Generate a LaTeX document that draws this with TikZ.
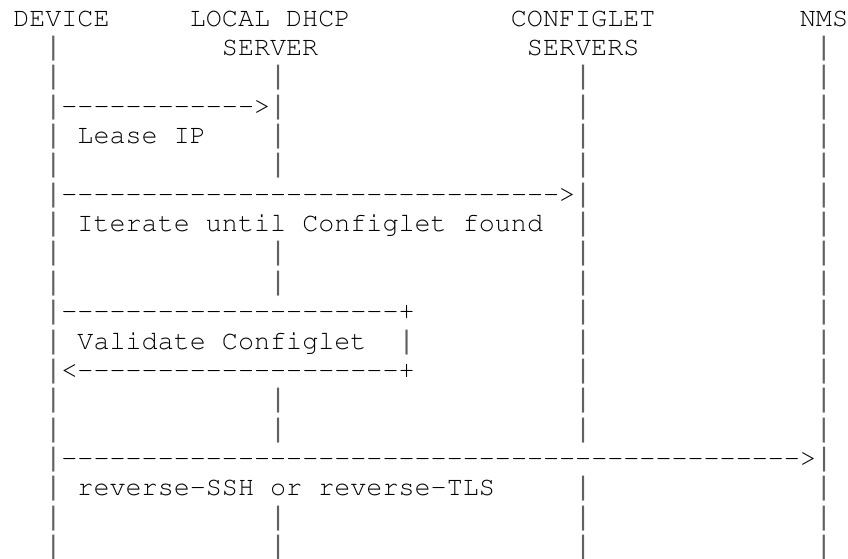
\documentclass[tikz,border=0pt]{standalone}
\usepackage[T1]{fontenc}
\usepackage{fontspec}
% tall bar glyph for the life lines
\newfontfamily\barfont{Liberation Mono}

% a run of n hyphens (kept apart so that no en dash ligature forms)
\ExplSyntaxOn
\cs_new:Npn \dashrun #1 { \prg_replicate:nn {#1} {-{}} }
\ExplSyntaxOff

% a vertical bar, one character cell wide, drawn a little lighter
\newcommand\vbar{{\barfont\color{black!62}|}}

\begin{document}
\begin{tikzpicture}[
  x=12.04pt, y=-22.03pt,
  ascii/.style={font=\fontencoding{T1}\fontfamily{pcr}\fontseries{m}\fontshape{n}\fontsize{20.07pt}{22pt}\selectfont,
                inner sep=0pt, anchor=base west, text=black}]
\useasboundingbox (0pt,0pt) rectangle (636pt,-418.5pt);

% one unit in x is one character column, one unit in y is one text line
\begin{scope}[shift={(9.75pt,-19.5pt)}]

  % participants
  \node[ascii] (device) at (0,0)  {DEVICE};
  \node[ascii] (dhcp)   at (11,0) {LOCAL DHCP};
  \node[ascii] (dhcp2)  at (13,1) {SERVER};
  \node[ascii] (cfg)    at (31,0) {CONFIGLET};
  \node[ascii] (cfg2)   at (32,1) {SERVERS};
  \node[ascii] (nms)    at (49,0) {NMS};

  % life lines, one bar per line and column
  \foreach \r/\cols in {1/{2,50}, 2/{2,16,35,50}, 3/{35,50},
                        4/{2,16,35,50}, 5/{2,16,35,50}, 6/{50},
                        7/{2,35,50}, 8/{2,16,35,50}, 9/{2,16,35,50},
                        10/{35,50}, 11/{2,24,35,50}, 12/{35,50},
                        13/{2,16,35,50}, 14/{2,16,35,50},
                        16/{2,35,50}, 17/{2,16,35,50}, 18/{2,16,35,50}}
    \foreach \c in \cols
      \node[ascii] (bar-\r-\c) at (\c,\r) {\vbar};

  % messages
  \node[ascii] (lease)    at (2,3)  {\vbar\dashrun{12}>\vbar};
  \node[ascii] (leaselbl) at (4,4)  {Lease IP};

  \node[ascii] (iter)     at (2,6)  {\vbar\dashrun{31}>\vbar};
  \node[ascii] (iterlbl)  at (4,7)  {Iterate until Configlet found};

  \node[ascii] (valout)   at (2,10) {\vbar\dashrun{21}+};
  \node[ascii] (vallbl)   at (4,11) {Validate Configlet};
  \node[ascii] (valback)  at (2,12) {\vbar<\dashrun{20}+};

  \node[ascii] (rev)      at (2,15) {\vbar\dashrun{46}>\vbar};
  \node[ascii] (revlbl)   at (4,16) {reverse-SSH or reverse-TLS};

\end{scope}
\end{tikzpicture}
\end{document}
